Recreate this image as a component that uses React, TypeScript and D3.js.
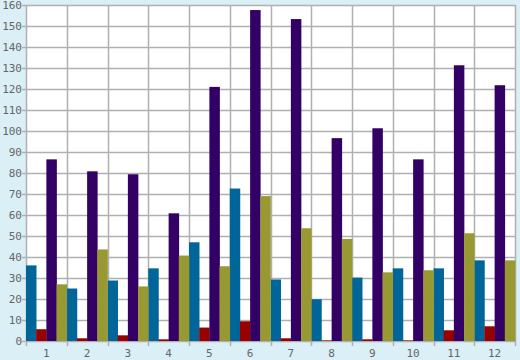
import * as d3 from "d3"
import { useEffect, useRef } from "react"

// categories and series
const categories = ["1", "2", "3", "4", "5", "6", "7", "8", "9", "10", "11", "12"]
const seriesBlue = [36, 25, 28.8, 34.6, 47, 72.6, 29.3, 19.9, 30.2, 34.6, 34.6, 38.4]
const seriesRed = [5.6, 1.3, 2.7, 0.8, 6.4, 9.4, 1.3, 0.3, 0.8, 0.3, 5.1, 7]
const seriesPurple = [86.5, 80.8, 79.4, 60.8, 121, 157.6, 153.3, 96.6, 101.3, 86.5, 131.3, 121.8]
const seriesOlive = [27, 43.6, 26, 40.7, 35.6, 69, 53.7, 48.6, 32.7, 33.7, 51.3, 38.4]
const yTicks = d3.range(0, 161, 10)

const seriesList = [
	{ name: "blue", values: seriesBlue, color: "#006699" },
	{ name: "red", values: seriesRed, color: "#990000" },
	{ name: "purple", values: seriesPurple, color: "#330066" },
	{ name: "olive", values: seriesOlive, color: "#999933" },
]

export default function App() {
	const svgRef = useRef<SVGSVGElement>(null)

	useEffect(() => {
		const width = 520
		const height = 360
		const margin = { top: 5, left: 26, right: 5, bottom: 19 }

		const svg = d3.select(svgRef.current)
		svg.selectAll("*").remove()

		svg.append("rect")
			.attr("width", width)
			.attr("height", height)
			.attr("fill", "#daeff6")

		// plot background
		svg.append("rect")
			.attr("x", margin.left)
			.attr("y", margin.top)
			.attr("width", width - margin.left - margin.right)
			.attr("height", height - margin.top - margin.bottom)
			.attr("fill", "#ffffff")

		const x = d3.scaleBand()
			.domain(categories)
			.range([margin.left, width - margin.right])
			.padding(0)

		const xInner = d3.scaleBand()
			.domain(seriesList.map(s => s.name))
			.range([0, x.bandwidth()])
			.padding(0)

		const y = d3.scaleLinear()
			.domain([0, 160])
			.range([height - margin.bottom, margin.top])

		const gridColor = "#b0b0b0"

		// horizontal grid
		svg.append("g")
			.selectAll("line")
			.data(yTicks)
			.enter()
			.append("line")
			.attr("x1", margin.left - 4)
			.attr("x2", width - margin.right)
			.attr("y1", d => Math.round(y(d)) + 0.5)
			.attr("y2", d => Math.round(y(d)) + 0.5)
			.attr("stroke", gridColor)
			.attr("stroke-width", 1.5)

		// vertical grid at band edges
		const edges = categories.map(c => x(c) as number).concat([width - margin.right])
		svg.append("g")
			.selectAll("line")
			.data(edges)
			.enter()
			.append("line")
			.attr("x1", d => Math.round(d) + 0.5)
			.attr("x2", d => Math.round(d) + 0.5)
			.attr("y1", margin.top)
			.attr("y2", height - margin.bottom + 5)
			.attr("stroke", gridColor)
			.attr("stroke-width", 1.5)

		// bars
		seriesList.forEach(s => {
			svg.append("g")
				.selectAll("rect")
				.data(s.values)
				.enter()
				.append("rect")
				.attr("x", (d, i) => (x(categories[i]) as number) + (xInner(s.name) as number))
				.attr("width", xInner.bandwidth() + 0.3)
				.attr("y", d => y(d))
				.attr("height", d => y(0) - y(d))
				.attr("fill", s.color)
		})

		// y labels
		svg.append("g")
			.selectAll("text")
			.data(yTicks)
			.enter()
			.append("text")
			.attr("x", margin.left - 4)
			.attr("y", d => y(d) + 4)
			.attr("text-anchor", "end")
			.attr("fill", "#666666")
			.style("font-family", "DejaVu Sans Mono")
			.style("font-size", "11px")
			.text(d => d)

		// x labels
		svg.append("g")
			.selectAll("text")
			.data(categories)
			.enter()
			.append("text")
			.attr("x", d => (x(d) as number) + x.bandwidth() / 2)
			.attr("y", height - 3)
			.attr("text-anchor", "middle")
			.attr("fill", "#666666")
			.style("font-family", "DejaVu Sans Mono")
			.style("font-size", "11px")
			.text(d => d)
	}, [])

	return (
		<div style={{ position: "fixed", left: 0, top: 0, width: 520, height: 360 }}>
			<svg ref={svgRef} width={520} height={360} style={{ display: "block" }} />
		</div>
	)
}
